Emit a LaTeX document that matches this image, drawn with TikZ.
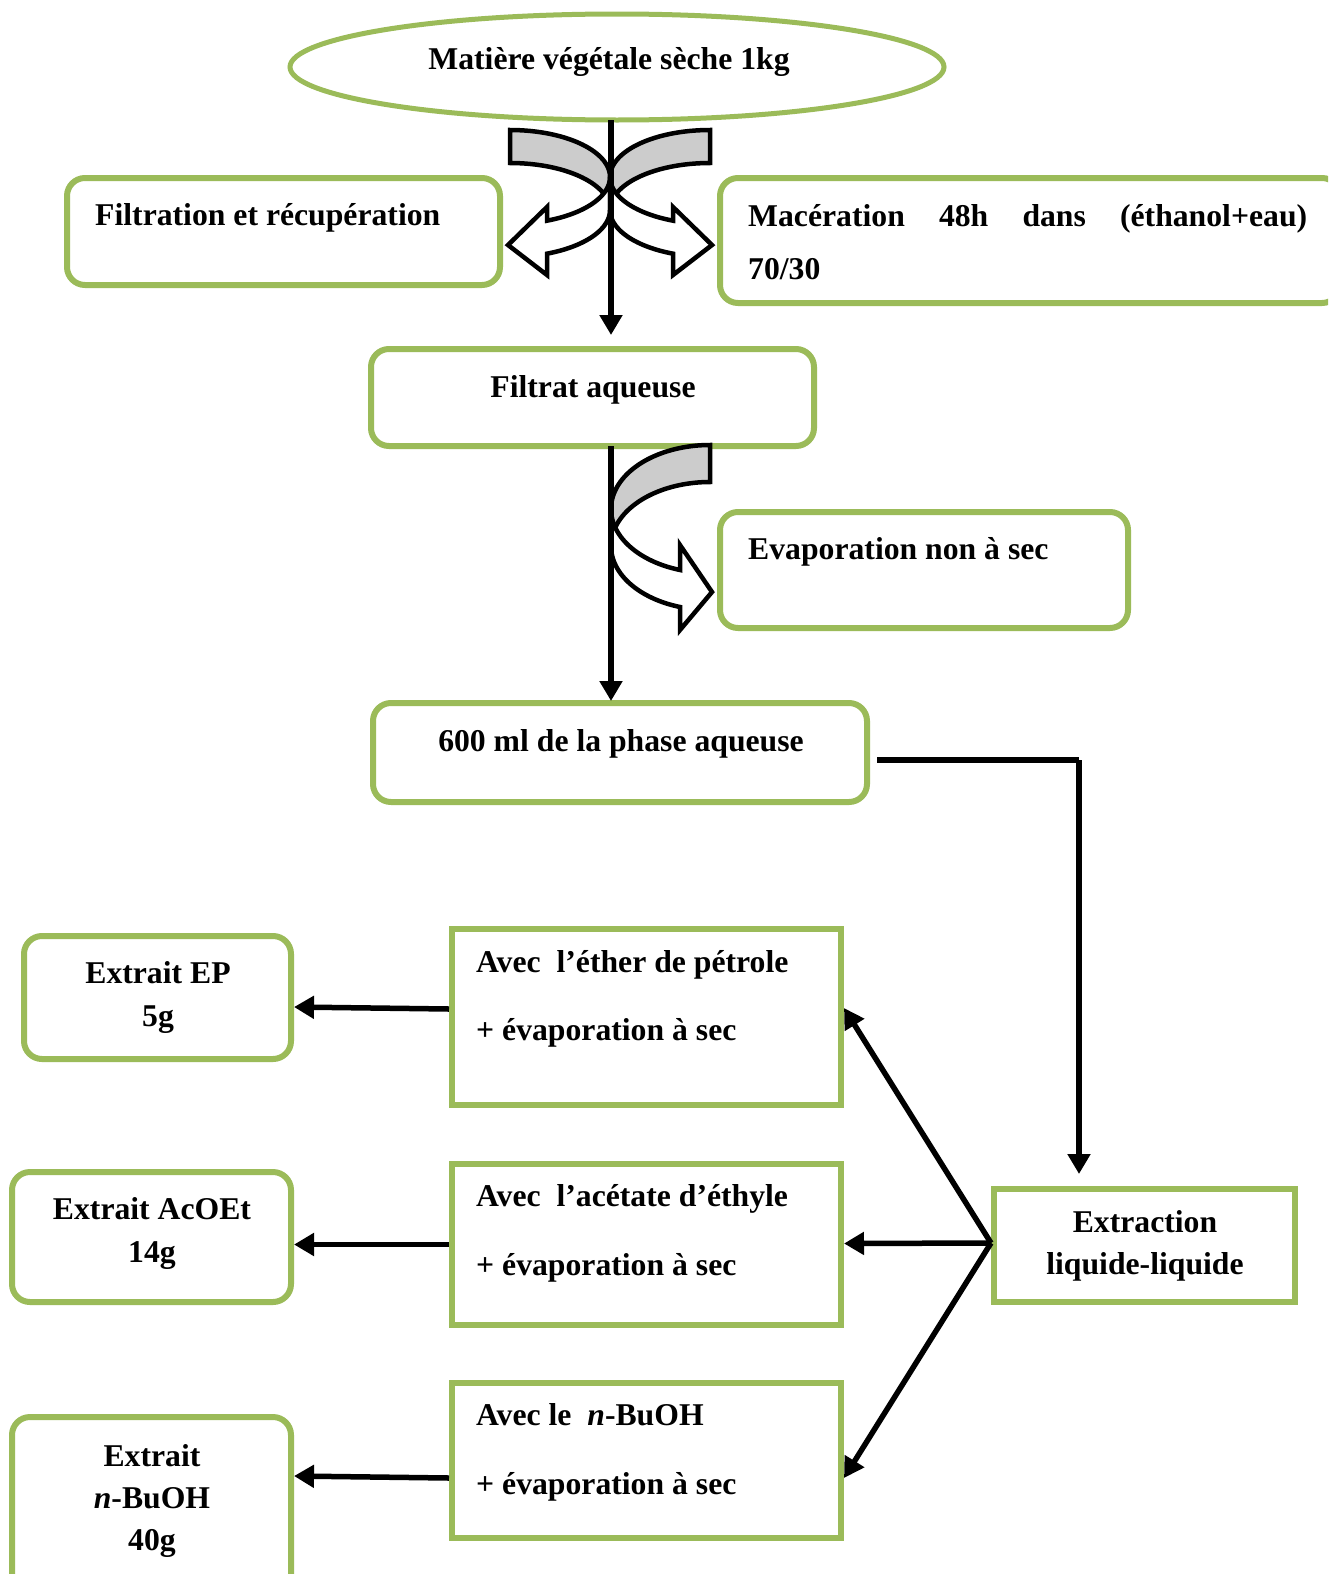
\documentclass[tikz,border=0pt]{standalone}
\usepackage{fontspec}
\setmainfont{Liberation Serif}
\usetikzlibrary{arrows.meta,shapes.geometric}
\definecolor{grn}{HTML}{9BBB59}
\definecolor{shade}{HTML}{CCCCCC}
\tikzset{
  box/.style={draw=grn, line width=6pt, rounded corners=18pt, inner sep=0pt},
  sqbox/.style={draw=grn, line width=6pt, inner sep=0pt},
  txt/.style={font=\fontsize{31.7}{38}\selectfont\bfseries, inner sep=0pt},
  conn/.style={line width=5.5pt, -{Triangle[length=20pt,width=22pt]}},
  band/.style={draw=black, line width=4.5pt, line join=miter},
}
\newcommand\GrayBand[5]{%
  \filldraw[band, fill=shade] plot[domain=90:180,samples=40] ({#1+#3*cos(\x)},{#2-#4*sin(\x)})
    -- plot[domain=180:90,samples=40] ({#1+#3*cos(\x)},{#2+#5-#4*sin(\x)}) -- cycle;}
\newcommand\WhiteBand[9]{%
  \pgfmathsetmacro\al{180+acos(#6/#3)}%
  \pgfmathsetmacro\xe{#1-#6}%
  \filldraw[band, fill=white] plot[domain=180:\al,samples=40] ({#1+#3*cos(\x)},{#2-#4*sin(\x)})
    -- (\xe,#7) -- ({#1+2},#9) -- (\xe,#8)
    -- plot[domain=\al:180,samples=40] ({#1+#3*cos(\x)},{#2+#5-#4*sin(\x)}) -- cycle;}
\begin{document}
\begin{tikzpicture}[x=1pt,y=-1pt]
\useasboundingbox (0,0) rectangle (1328,1574);
\clip (0,0) rectangle (1328,1574);
% boxes
\node[draw=grn, line width=5pt, ellipse, inner sep=0pt, minimum width=654pt, minimum height=106pt] (mat) at (617,67) {};
\node[box, minimum width=433pt, minimum height=107pt] (filt) at (283.5,231.5) {};
\node[box, minimum width=620pt, minimum height=125pt] (mac) at (1030,240.5) {};
\node[box, minimum width=443pt, minimum height=97pt] (filtrat) at (592.5,397.5) {};
\node[box, minimum width=408pt, minimum height=116pt] (evap) at (924,570) {};
\node[box, minimum width=494pt, minimum height=99pt] (ph600) at (620,752.5) {};
\node[box, minimum width=267pt, minimum height=123pt] (ep) at (157.5,997.5) {};
\node[sqbox, minimum width=389pt, minimum height=176pt] (ether) at (646.5,1017) {};
\node[box, minimum width=279pt, minimum height=130pt] (acoet) at (151.5,1237) {};
\node[sqbox, minimum width=389pt, minimum height=161pt] (acet) at (646.5,1244.5) {};
\node[sqbox, minimum width=301pt, minimum height=113pt] (extr) at (1144.5,1245.5) {};
\node[box, minimum width=279pt, minimum height=183pt] (bu) at (151.5,1508.5) {};
\node[sqbox, minimum width=389pt, minimum height=155pt] (bua) at (646.5,1460.5) {};
% texts
\node[txt, anchor=base] (tmat) at (609,69) {Matière végétale sèche 1kg};
\node[txt, anchor=base west] (tfilt) at (95,225) {Filtration et récupération};
\node[txt, anchor=base west] (tmac) at (748,226) {\hbox to 559pt{Macération\hfill 48h\hfill dans\hfill (éthanol+eau)}};
\node[txt, anchor=base west] (t7030) at (748,279) {70/30};
\node[txt, anchor=base] (tfiltrat) at (593,397) {Filtrat aqueuse};
\node[txt, anchor=base west] (tevap) at (748,559) {Evaporation non à sec};
\node[txt, anchor=base] (t600) at (621,751) {600 ml de la phase aqueuse};
\node[txt, anchor=base] (tep1) at (158,983) {Extrait EP};
\node[txt, anchor=base] (tep2) at (158,1026) {5g};
\node[txt, anchor=base west] (tether1) at (476,972) {Avec\ \ l’éther de pétrole};
\node[txt, anchor=base west] (tether2) at (476,1040) {+ évaporation à sec};
\node[txt, anchor=base] (tac1) at (152,1219) {Extrait AcOEt};
\node[txt, anchor=base] (tac2) at (152,1262) {14g};
\node[txt, anchor=base west] (tacet1) at (476,1206) {Avec\ \ l’acétate d’éthyle};
\node[txt, anchor=base west] (tacet2) at (476,1275) {+ évaporation à sec};
\node[txt, anchor=base] (textr1) at (1145,1232) {Extraction};
\node[txt, anchor=base] (textr2) at (1145,1274) {liquide-liquide};
\node[txt, anchor=base] (tbu1) at (152,1466) {Extrait};
\node[txt, anchor=base] (tbu2) at (152,1508) {\textit{n}-BuOH};
\node[txt, anchor=base] (tbu3) at (152,1550) {40g};
\node[txt, anchor=base west] (tbua1) at (476,1425) {Avec le\ \ \textit{n}-BuOH};
\node[txt, anchor=base west] (tbua2) at (476,1494) {+ évaporation à sec};
% curved arrows
\GrayBand{710}{177}{100}{47}{33}
\begin{scope}[xshift=1220pt, xscale=-1]
\GrayBand{710}{177}{100}{47}{33}
\WhiteBand{710}{177}{100}{47}{33}{37}{207}{275}{245}
\end{scope}
\WhiteBand{710}{177}{100}{47}{33}{37}{207}{275}{245}
\GrayBand{710}{509}{99}{64}{37}
\WhiteBand{710}{509}{99}{64}{37}{30}{545}{630}{592}
% connectors
\coordinate (v1s) at (611,120);
\coordinate (v1e) at (611,335);
\coordinate (v2s) at (611,446);
\coordinate (v2e) at (611,701);
\coordinate (elbow) at (1079,760);
\coordinate (etop) at (1079,1174);
\draw[conn] (v1s) -- (v1e);
\draw[conn] (v2s) -- (v2e);
\draw[line width=5.5pt] ([xshift=7pt,yshift=-7.5pt]ph600.east) -- (elbow);
\draw[conn] (elbow) -- (etop);
\draw[conn] ([yshift=2.5pt]extr.west) -- ([yshift=9pt]ether.east);
\draw[conn] ([yshift=2.5pt]extr.west) -- ([yshift=1pt]acet.east);
\draw[conn] ([yshift=2.5pt]extr.west) -- ([yshift=-17.5pt]bua.east);
\draw[conn] ([yshift=8pt]ether.west) -- ([yshift=-9.5pt]ep.east);
\draw[conn] (acet.west) -- (acet.west -| acoet.east);
\draw[conn] ([yshift=-17.5pt]bua.west) -- ([yshift=32.5pt]bu.east);
\end{tikzpicture}
\end{document}
